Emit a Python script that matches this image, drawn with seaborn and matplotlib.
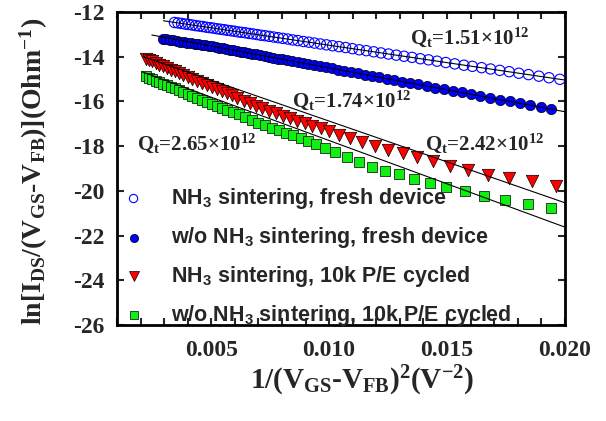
import numpy as np
import matplotlib
matplotlib.use('Agg')
import matplotlib.pyplot as plt
import seaborn as sns

# NH3 sintering, fresh device (open blue circles)
x_nh3_fresh = [0.00344, 0.00359, 0.00374, 0.00389, 0.00404, 0.00419, 0.00434, 0.00449, 0.00464, 0.00479,
               0.00494, 0.00509, 0.00524, 0.00539, 0.00554, 0.00569, 0.00584, 0.00599, 0.00614, 0.00629,
               0.00645, 0.00661, 0.00677, 0.00694, 0.00711, 0.00728, 0.00746, 0.00765, 0.00784, 0.00804,
               0.00825, 0.00846, 0.00868, 0.00891, 0.00914, 0.00938, 0.00963, 0.00989, 0.01015, 0.01042,
               0.01070, 0.01099, 0.01128, 0.01158, 0.01189, 0.01220, 0.01252, 0.01285, 0.01318, 0.01352,
               0.01387, 0.01422, 0.01458, 0.01495, 0.01533, 0.01572, 0.01608, 0.01647, 0.01685, 0.01724,
               0.01764, 0.01805, 0.01846, 0.01890, 0.01933, 0.01979]
y_nh3_fresh = [-12.47, -12.49, -12.51, -12.54, -12.56, -12.58, -12.61, -12.63, -12.65, -12.68,
               -12.70, -12.72, -12.75, -12.77, -12.79, -12.82, -12.84, -12.86, -12.89, -12.91,
               -12.93, -12.96, -12.98, -13.01, -13.04, -13.06, -13.09, -13.12, -13.15, -13.18,
               -13.21, -13.25, -13.28, -13.32, -13.35, -13.39, -13.43, -13.47, -13.51, -13.55,
               -13.59, -13.64, -13.69, -13.73, -13.78, -13.83, -13.88, -13.93, -13.98, -14.03,
               -14.09, -14.14, -14.20, -14.26, -14.32, -14.38, -14.43, -14.49, -14.55, -14.61,
               -14.67, -14.74, -14.80, -14.87, -14.94, -15.01]

# w/o NH3 sintering, fresh device (filled blue circles)
x_wo_fresh = [0.00294, 0.00309, 0.00324, 0.00339, 0.00354, 0.00369, 0.00384, 0.00399, 0.00414, 0.00429,
              0.00444, 0.00459, 0.00474, 0.00489, 0.00504, 0.00519, 0.00534, 0.00549, 0.00564, 0.00579,
              0.00594, 0.00609, 0.00625, 0.00641, 0.00657, 0.00674, 0.00691, 0.00708, 0.00726, 0.00744,
              0.00763, 0.00782, 0.00802, 0.00823, 0.00844, 0.00866, 0.00888, 0.00911, 0.00935, 0.00960,
              0.00985, 0.01011, 0.01038, 0.01065, 0.01093, 0.01122, 0.01152, 0.01182, 0.01213, 0.01245,
              0.01277, 0.01310, 0.01344, 0.01379, 0.01414, 0.01450, 0.01487, 0.01525, 0.01563, 0.01602,
              0.01642, 0.01683, 0.01725, 0.01767, 0.01810, 0.01853, 0.01897, 0.01940]
y_wo_fresh = [-13.20, -13.22, -13.25, -13.27, -13.30, -13.32, -13.35, -13.37, -13.39, -13.41,
              -13.44, -13.46, -13.49, -13.51, -13.54, -13.56, -13.59, -13.62, -13.65, -13.68,
              -13.71, -13.74, -13.77, -13.80, -13.83, -13.86, -13.90, -13.93, -13.97, -14.00,
              -14.04, -14.08, -14.11, -14.16, -14.20, -14.24, -14.28, -14.33, -14.37, -14.42,
              -14.47, -14.52, -14.58, -14.63, -14.68, -14.74, -14.80, -14.86, -14.92, -14.98,
              -15.04, -15.11, -15.18, -15.24, -15.31, -15.38, -15.46, -15.53, -15.60, -15.68,
              -15.76, -15.84, -15.92, -16.00, -16.09, -16.17, -16.26, -16.34]

# NH3 sintering, 10k P/E cycled (red triangles)
x_nh3_cyc = [0.00222, 0.00236, 0.00250, 0.00265, 0.00280, 0.00296, 0.00312, 0.00329, 0.00346, 0.00364,
             0.00382, 0.00401, 0.00420, 0.00440, 0.00460, 0.00481, 0.00502, 0.00524, 0.00546, 0.00566,
             0.00586, 0.00610, 0.00639, 0.00664, 0.00689, 0.00716, 0.00745, 0.00773, 0.00803, 0.00834,
             0.00865, 0.00897, 0.00928, 0.00964, 0.01000, 0.01043, 0.01088, 0.01138, 0.01194, 0.01251,
             0.01312, 0.01375, 0.01441, 0.01515, 0.01590, 0.01675, 0.01764, 0.01859, 0.01962]
y_nh3_cyc = [-14.08, -14.15, -14.21, -14.28, -14.35, -14.43, -14.50, -14.58, -14.66, -14.74,
             -14.82, -14.91, -14.99, -15.08, -15.17, -15.26, -15.36, -15.45, -15.55, -15.64,
             -15.73, -15.86, -15.98, -16.08, -16.19, -16.31, -16.41, -16.53, -16.64, -16.75,
             -16.87, -16.98, -17.08, -17.20, -17.34, -17.50, -17.65, -17.82, -18.00, -18.18,
             -18.31, -18.50, -18.67, -18.90, -19.08, -19.27, -19.43, -19.58, -19.78]

# w/o NH3 sintering, 10k P/E cycled (green squares)
x_wo_cyc = [0.00222, 0.00236, 0.00250, 0.00265, 0.00280, 0.00296, 0.00312, 0.00329, 0.00346, 0.00364,
            0.00382, 0.00401, 0.00420, 0.00440, 0.00460, 0.00481, 0.00502, 0.00524, 0.00546, 0.00566,
            0.00591, 0.00619, 0.00643, 0.00671, 0.00699, 0.00728, 0.00756, 0.00788, 0.00817, 0.00848,
            0.00880, 0.00911, 0.00944, 0.00982, 0.01025, 0.01077, 0.01128, 0.01180, 0.01237, 0.01297,
            0.01361, 0.01427, 0.01498, 0.01576, 0.01658, 0.01745, 0.01844, 0.01943]
y_wo_cyc = [-14.88, -14.94, -15.00, -15.07, -15.13, -15.20, -15.27, -15.35, -15.42, -15.50,
            -15.58, -15.66, -15.74, -15.83, -15.92, -16.01, -16.10, -16.19, -16.29, -16.38,
            -16.47, -16.58, -16.71, -16.83, -16.95, -17.05, -17.17, -17.29, -17.40, -17.51,
            -17.65, -17.76, -17.92, -18.08, -18.27, -18.50, -18.72, -18.92, -19.10, -19.26,
            -19.47, -19.63, -19.81, -20.01, -20.22, -20.41, -20.60, -20.78]

labels = ['NH$_\\mathbf{3}$ sintering, fresh device',
          'w/o NH$_\\mathbf{3}$ sintering, fresh device',
          'NH$_\\mathbf{3}$ sintering, 10k P/E cycled',
          'w/o NH$_\\mathbf{3}$ sintering, 10k P/E cycled']

# linear fits (start x, slope, intercept)
fit_start = [0.00297, 0.00248, 0.00212, 0.00205]
fit_slope = [-155.6, -195.8, -365.2, -387.2]
fit_icept = [-11.93, -12.544, -13.226, -13.876]

qt_labels = ['1.51', '1.74', '2.42', '2.65']
qt_pos = [(0.01343, -13.12), (0.00842, -15.94), (0.01406, -17.86), (0.00185, -17.86)]

sns.set_style('ticks')
plt.rcParams['font.family'] = ['Liberation Serif', 'DejaVu Serif']
plt.rcParams['font.weight'] = 'bold'
plt.rcParams['axes.unicode_minus'] = False
plt.rcParams['mathtext.fontset'] = 'custom'
plt.rcParams['mathtext.rm'] = 'Liberation Serif:bold'
plt.rcParams['mathtext.it'] = 'Liberation Serif:bold'
plt.rcParams['mathtext.bf'] = 'Liberation Sans:bold'

fig = plt.figure(figsize=(6.06, 4.21), dpi=100)
ax = fig.add_axes([0.193, 0.228, 0.739, 0.7435])

sns.scatterplot(x=x_nh3_fresh, y=y_nh3_fresh, marker='o', s=55, facecolors='none',
                edgecolors='#0000ff', linewidth=0.8, ax=ax, zorder=3)
sns.scatterplot(x=x_wo_fresh, y=y_wo_fresh, marker='o', s=55, color='#0000ff',
                edgecolor='black', linewidth=0.5, ax=ax, zorder=3)
sns.scatterplot(x=x_nh3_cyc, y=y_nh3_cyc, marker='v', s=80, color='#ff0000',
                edgecolor='black', linewidth=0.5, ax=ax, zorder=3)
sns.scatterplot(x=x_wo_cyc, y=y_wo_cyc, marker='s', s=50, color='#11ee11',
                edgecolor='black', linewidth=0.5, ax=ax, zorder=3)
ax.collections[0].set_facecolor('none')
ax.collections[0].set_edgecolor('#0000ff')

for x0, k, b in zip(fit_start, fit_slope, fit_icept):
    xx = np.array([x0, 0.020])
    sns.lineplot(x=xx, y=b + k * xx, color='black', linewidth=0.8, ax=ax, zorder=4)

for q, (tx, ty) in zip(qt_labels, qt_pos):
    ax.text(tx, ty, 'Q$_\\mathrm{t}$=' + q + '\u00d710$^\\mathrm{12}$', fontsize=15,
            fontweight='bold', va='center', ha='left', zorder=5)

ax.set_xlim(0.001, 0.020)
ax.set_ylim(-26, -12)
ax.set_xticks([0.005, 0.010, 0.015, 0.020])
ax.set_xticks(np.arange(0.001, 0.0201, 0.001), minor=True)
ax.set_yticks(np.arange(-26, -11, 2))
ax.xaxis.set_major_formatter(matplotlib.ticker.FormatStrFormatter('%.3f'))
ax.tick_params(which='both', direction='in', top=True, right=True, length=5, width=1.5,
               labelsize=17)
ax.tick_params(axis='x', pad=11)
ax.tick_params(axis='y', pad=9)
for sp in ax.spines.values():
    sp.set_linewidth(2)
    sp.set_color('black')

ax.set_xlabel('1/(V$_\\mathrm{GS}$-V$_\\mathrm{FB}$)$^\\mathrm{2}$(V$^\\mathrm{-2}$)', fontsize=21,
              fontweight='bold')
ax.set_ylabel('ln[I$_\\mathrm{DS}$/(V$_\\mathrm{GS}$-V$_\\mathrm{FB}$)](Ohm$^\\mathrm{-1}$)', fontsize=20,
              fontweight='bold')
ax.xaxis.set_label_coords(0.547, -0.125)
ax.yaxis.set_label_coords(-0.15, 0.49)

handles = ax.collections[:4]
ax.legend(handles, labels, loc='lower left', bbox_to_anchor=(0.013, -0.01), frameon=False,
          markerscale=0.8, prop={'family': 'Liberation Sans', 'weight': 'bold', 'size': 15.5},
          labelspacing=0.65, handletextpad=1.25, borderaxespad=0.0, borderpad=0.0,
          handlelength=1.0)

fig.savefig('out.png', dpi=100)
